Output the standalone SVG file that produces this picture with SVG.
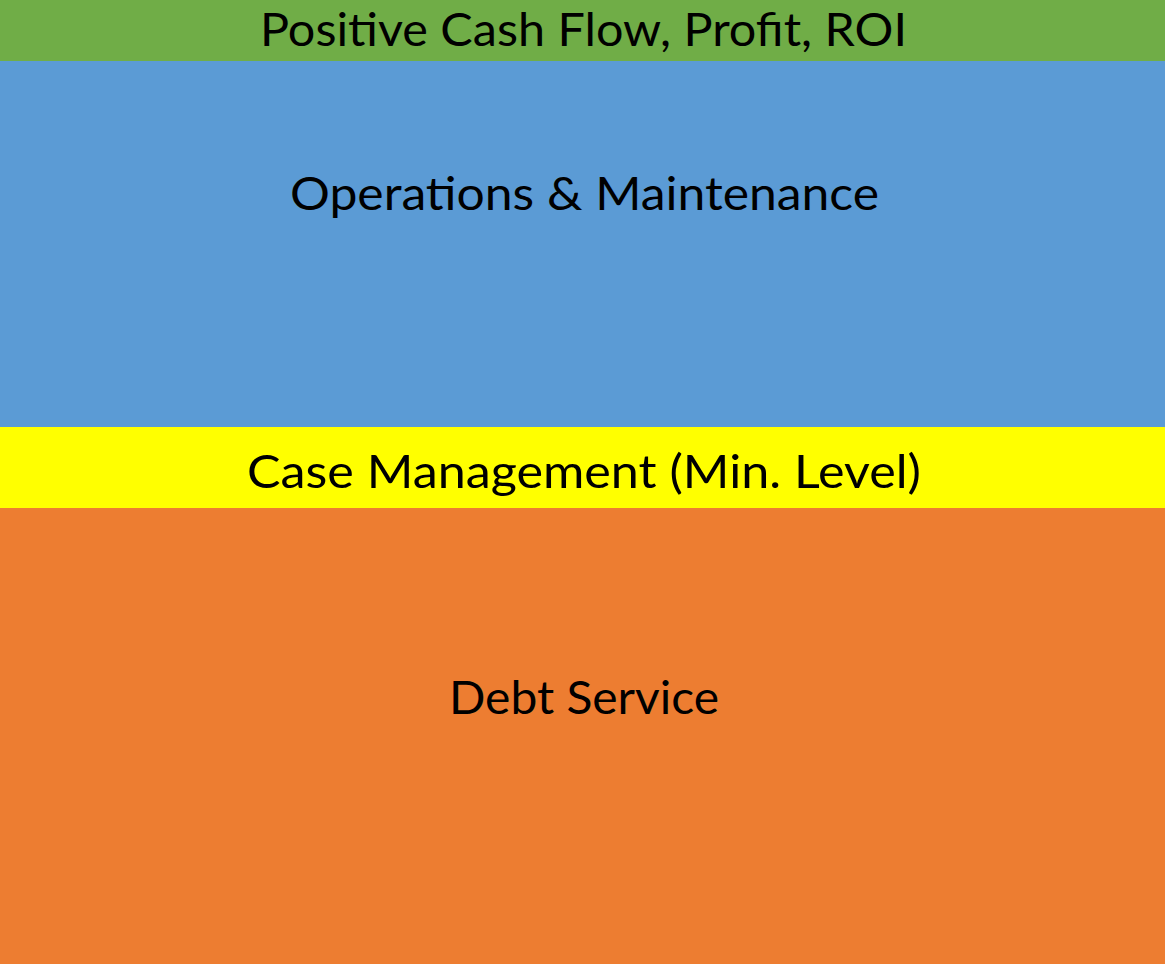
<svg xmlns="http://www.w3.org/2000/svg" width="1165" height="964" viewBox="0 0 1165 964">
<style>
.lbl{font-family:Lato,"Open Sans","Liberation Sans",sans-serif;font-size:46px;fill:#000;}
</style>
<g id="profit">
<rect x="0" y="0" width="1165" height="61" fill="#70AD47"/>
<text class="lbl" x="260" y="46" textLength="647" lengthAdjust="spacingAndGlyphs">Positive Cash Flow, Profit, ROI</text>
</g>
<g id="operations">
<rect x="0" y="61" width="1165" height="366" fill="#5B9BD5"/>
<text class="lbl" x="290" y="210" textLength="589" lengthAdjust="spacingAndGlyphs">Operations &amp; Maintenance</text>
</g>
<g id="case-management">
<rect x="0" y="427" width="1165" height="81" fill="#FFFF00"/>
<text class="lbl" x="247" y="488" textLength="674" lengthAdjust="spacingAndGlyphs">Case Management (Min. Level)</text>
</g>
<g id="debt-service">
<rect x="0" y="508" width="1165" height="456" fill="#ED7D31"/>
<text class="lbl" x="449" y="714" textLength="270" lengthAdjust="spacingAndGlyphs">Debt Service</text>
</g>
<g id="connectors"/>
</svg>
